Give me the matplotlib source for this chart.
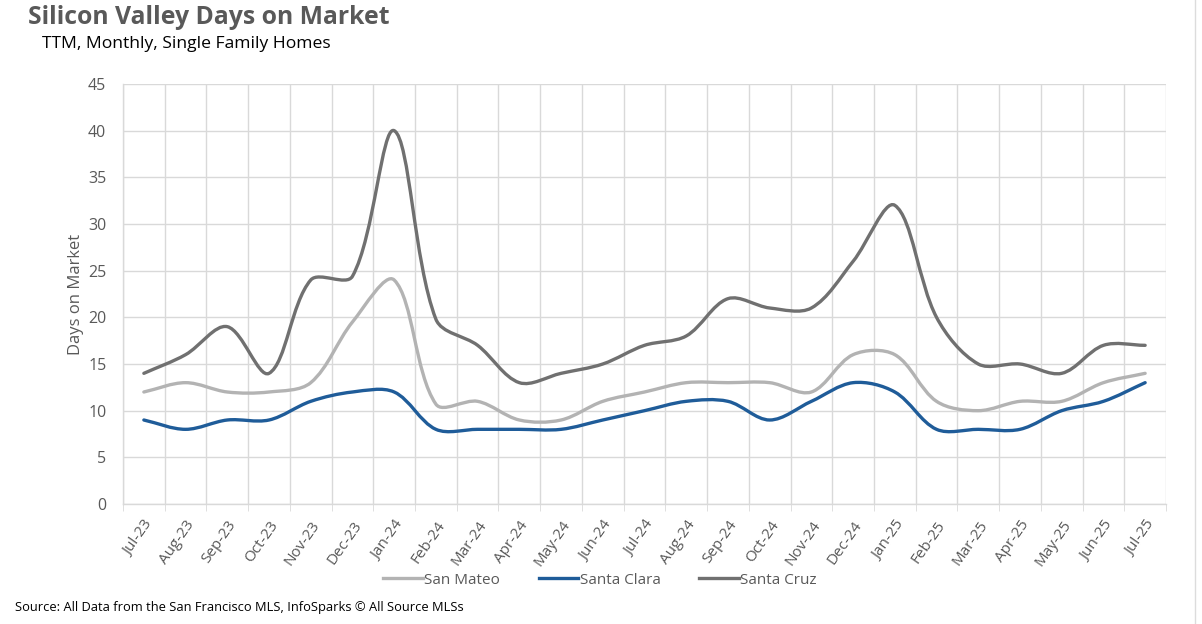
#Silicon Valley days on market, smoothed lines like the Excel original
import numpy as np
import matplotlib.pyplot as plt
from matplotlib.path import Path
from matplotlib.patches import PathPatch
from matplotlib.lines import Line2D

plt.rcParams['font.family'] = ['Open Sans', 'DejaVu Sans']

months = ["Jul-23", "Aug-23", "Sep-23", "Oct-23", "Nov-23", "Dec-23", "Jan-24",
          "Feb-24", "Mar-24", "Apr-24", "May-24", "Jun-24", "Jul-24", "Aug-24",
          "Sep-24", "Oct-24", "Nov-24", "Dec-24", "Jan-25", "Feb-25", "Mar-25",
          "Apr-25", "May-25", "Jun-25", "Jul-25"]

san_mateo = [12, 13, 12, 12, 13, 19.5, 24, 10.7, 11, 9, 9, 11, 12,
             13, 13, 13, 12, 16, 16, 11, 10, 11, 11, 13, 14]
santa_clara = [9, 8, 9, 9, 11, 12, 12, 8, 8, 8, 8, 9, 10,
               11, 11, 9, 11, 13, 12, 8, 8, 8, 10, 11, 13]
santa_cruz = [14, 16, 19, 14, 24, 24.4, 40, 19.8, 17, 13, 14, 15, 17,
              18, 22, 21, 21, 26, 32, 20, 15, 15, 14, 17, 17]

series = [("San Mateo", san_mateo, "#b3b3b3"),
          ("Santa Clara", santa_clara, "#1f5c99"),
          ("Santa Cruz", santa_cruz, "#707070")]

grey_text = "#595959"
grid_col = "#d9d9d9"


#smooth bezier path through the points, tangents split by segment length on screen
def smooth_path(ax, xs, ys):
	data = np.column_stack([xs, ys]).astype(float)
	pts = ax.transData.transform(data)
	n = len(pts)
	fwd = np.zeros_like(pts)
	back = np.zeros_like(pts)
	for i in range(n):
		prv = pts[max(i - 1, 0)]
		nxt = pts[min(i + 1, n - 1)]
		d = nxt - prv
		l1 = np.hypot(*(pts[i] - prv))
		l2 = np.hypot(*(nxt - pts[i]))
		tot = l1 + l2
		if tot == 0:
			continue
		fwd[i] = d * (l2 / tot) / 3
		back[i] = d * (l1 / tot) / 3
	verts = [pts[0]]
	codes = [Path.MOVETO]
	for i in range(n - 1):
		verts += [pts[i] + fwd[i], pts[i + 1] - back[i + 1], pts[i + 1]]
		codes += [Path.CURVE4] * 3
	verts = ax.transData.inverted().transform(np.array(verts))
	return Path(verts, codes)


fig = plt.figure(figsize=(12.02, 6.24), dpi=100)
ax = fig.add_axes([123 / 1202, 1 - 504 / 624, (1166 - 123) / 1202, (504 - 84) / 624])

x = np.arange(len(months))
ax.set_xlim(-0.5, len(months) - 0.5)
ax.set_ylim(0, 45)

handles = []
for name, vals, col in series:
	patch = PathPatch(smooth_path(ax, x, vals), fill=False, edgecolor=col, lw=2.4,
	                  capstyle='round', joinstyle='round', zorder=3)
	ax.add_patch(patch)
	handles.append(Line2D([], [], color=col, lw=2.4, label=name))

ax.set_yticks(np.arange(0, 46, 5))
ax.set_xticks(x)
ax.set_xticklabels(months, rotation=55, ha='right', rotation_mode='anchor')
ax.set_xticks(np.arange(-0.5, len(months), 1), minor=True)

ax.grid(True, which='minor', axis='x', color=grid_col, lw=1)
ax.grid(True, which='major', axis='y', color=grid_col, lw=1)
ax.set_axisbelow(True)

for s in ['top', 'right']:
	ax.spines[s].set_visible(False)
for s in ['left', 'bottom']:
	ax.spines[s].set_color(grid_col)
	ax.spines[s].set_linewidth(1)

ax.tick_params(axis='y', length=0, pad=12, labelsize=11.5, labelcolor=grey_text)
ax.tick_params(axis='x', which='major', length=0, pad=10, labelsize=11, labelcolor=grey_text)
ax.tick_params(axis='x', which='minor', length=5, color=grid_col)

ax.set_ylabel("Days on Market", fontsize=12, color=grey_text, labelpad=3)

fig.text(28 / 1202, 1 - 17 / 624, "Silicon Valley Days on Market", fontsize=17.8,
         fontweight='bold', color=grey_text, va='center', ha='left')
fig.text(42 / 1202, 1 - 44 / 624, "TTM, Monthly, Single Family Homes", fontsize=12.6,
         color='black', va='center', ha='left')
fig.text(15 / 1202, 1 - 608 / 624,
         "Source: All Data from the San Francisco MLS, InfoSparks \u00a9 All Source MLSs",
         fontsize=9.3, color='black', va='center', ha='left')

fig.legend(handles=handles, loc='center', bbox_to_anchor=(600 / 1202, 1 - 580 / 624),
           ncol=3, frameon=False, fontsize=11, labelcolor=grey_text,
           handlelength=2.6, handletextpad=0.1, columnspacing=2.5)

#thin frame line at the right edge like the screenshot
fig.add_artist(Line2D([1195 / 1202, 1195 / 1202], [0, 1], color='#dcdcdc', lw=1,
                      transform=fig.transFigure))

plt.savefig("out.png", dpi=100)
